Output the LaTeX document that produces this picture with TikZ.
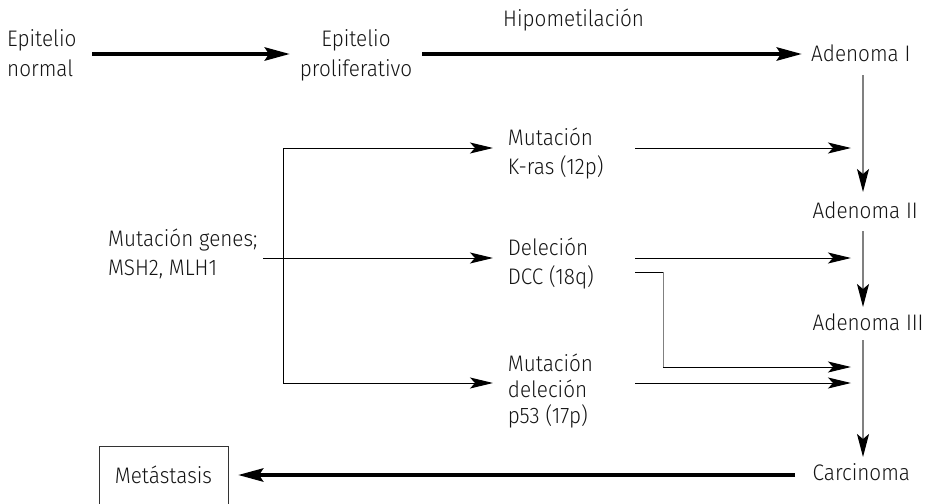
\documentclass[tikz,border=0pt]{standalone}
\usepackage{fontspec}
\setmainfont{Fira Sans Light}[FakeStretch=0.92]
\usetikzlibrary{arrows.meta}
\newcommand{\vleft}[1]{\vtop{\halign{##\hfil\cr#1\crcr}}}
\newcommand{\vcent}[1]{\vtop{\halign{\hfil##\hfil\cr#1\crcr}}}
\definecolor{vgrey}{gray}{0.5}
\definecolor{txt}{gray}{0.08}
\tikzset{
  lbl/.style={inner sep=0pt, anchor=base west, text=txt, font=\fontsize{22.5}{29}\selectfont},
  bigarrow/.style={line width=4.5pt, -{Stealth[length=25pt,width=13pt,inset=4pt]}},
  thinarrow/.style={line width=1pt, -{Stealth[length=23pt,width=11pt,inset=5pt]}},
  vertarrow/.style={line width=1.3pt, draw=vgrey, -{Stealth[length=23pt,width=12pt,inset=5pt,color=black]}},
  plainline/.style={line width=1pt}
}
\begin{document}
\begin{tikzpicture}[x=1pt,y=-1pt]
\useasboundingbox (0,0) rectangle (931,503);
% text nodes
\node[lbl] (epn) at (7,47) {\vleft{Epitelio\cr normal}};
\node[lbl, anchor=base] (epp) at (356,47) {\vcent{Epitelio\cr proliferativo}};
\node[lbl] (hipo) at (503,27) {Hipometilación};
\node[lbl] (ad1) at (811,61.7) {Adenoma I};
\node[lbl] (ad2) at (812.5,218.3) {Adenoma II};
\node[lbl] (ad3) at (812.5,330) {Adenoma III};
\node[lbl] (carc) at (812.5,480) {Carcinoma};
\node[lbl] (genes) at (108,246.7) {\vleft{Mutación genes;\cr MSH2, MLH1}};
\node[lbl] (kras) at (507.7,145) {\vleft{Mutación\cr K-ras (12p)}};
\node[lbl] (dcc) at (507.7,255) {\vleft{Deleción\cr DCC (18q)}};
\node[lbl, font=\fontsize{22.5}{26}\selectfont] (p53) at (507.7,371.7) {\vleft{Mutación\cr deleción\cr p53 (17p)}};
\node[draw, line width=0.8pt, draw=black!80, text=txt, minimum width=129pt, minimum height=58pt, inner sep=0pt,
      font=\fontsize{22.5}{29}\selectfont] (meta) at (163.5,475) {Metástasis};
% coordinates
\coordinate (a1s) at (92,54);   \coordinate (a1e) at (290,54);
\coordinate (a2s) at (422,54);  \coordinate (a2e) at (802,54);
\coordinate (a3s) at (795,475); \coordinate (a3e) at (238,475);
\coordinate (v1s) at (863,75);  \coordinate (v1e) at (863,192);
\coordinate (v2s) at (863,231); \coordinate (v2e) at (863,307);
\coordinate (v3s) at (863,340); \coordinate (v3e) at (863,457);
\coordinate (bt) at (283,148);  \coordinate (bb) at (283,383);
\coordinate (gm) at (263,258);
\coordinate (kin) at (493,148); \coordinate (din) at (493,258); \coordinate (pin) at (493,383);
\coordinate (kout) at (635,148); \coordinate (kend) at (851,148);
\coordinate (dout) at (635,258); \coordinate (dend) at (851,258);
\coordinate (dbr) at (635,272);  \coordinate (dcorner) at (663,272); \coordinate (dlow) at (663,367);
\coordinate (dbend) at (851,367);
\coordinate (pout) at (635,383); \coordinate (pend) at (851,383);
% thick arrows
\draw[bigarrow] (a1s) -- (a1e);
\draw[bigarrow] (a2s) -- (a2e);
\draw[bigarrow] (a3s) -- (a3e);
% vertical arrows
\draw[vertarrow] (v1s) -- (v1e);
\draw[vertarrow] (v2s) -- (v2e);
\draw[vertarrow] (v3s) -- (v3e);
% bracket from genes
\draw[plainline] (bt) -- (bb);
\draw[thinarrow] (bt) -- (kin);
\draw[thinarrow] (bb) -- (pin);
\draw[thinarrow] (gm) -- (din);
% right arrows
\draw[thinarrow] (kout) -- (kend);
\draw[thinarrow] (dout) -- (dend);
\draw[thinarrow] (pout) -- (pend);
\draw[plainline] (dbr) -- (dcorner);
\draw[plainline, draw=vgrey] (dcorner) -- (dlow);
\draw[thinarrow] (dlow) -- (dbend);
\end{tikzpicture}
\end{document}
